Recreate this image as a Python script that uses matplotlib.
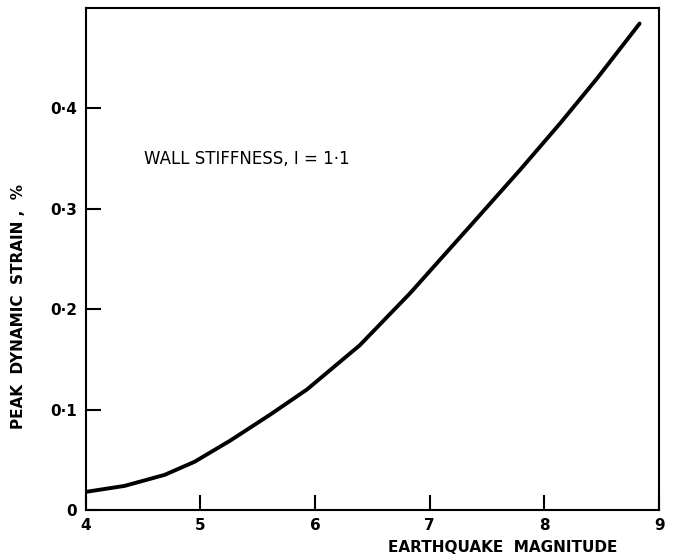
import matplotlib
matplotlib.use("Agg")
import matplotlib.pyplot as plt

magnitude = [4.0, 4.34, 4.69, 4.95, 5.26, 5.61, 5.93, 6.39, 6.83, 7.08, 7.35, 7.79, 8.14, 8.46, 8.83]
strain = [0.018, 0.024, 0.035, 0.048, 0.069, 0.095, 0.120, 0.164, 0.216, 0.248, 0.2825, 0.339, 0.3855, 0.430, 0.4845]

x_ticks = [4, 5, 6, 7, 8, 9]
x_labels = ["4", "5", "6", "7", "8", "9"]
y_ticks = [0, 0.1, 0.2, 0.3, 0.4]
y_labels = ["0", "0·1", "0·2", "0·3", "0·4"]

plt.rcParams['font.family'] = ['DejaVu Sans']

fig = plt.figure(figsize=(6.76, 5.6), dpi=100)
ax = fig.add_axes([0.1265, 0.0893, 0.975 - 0.1265, 0.9857 - 0.0893])

ax.plot(magnitude, strain, color='black', linewidth=2.8,
        solid_capstyle='round', solid_joinstyle='round')

ax.set_xlim(4, 9)
ax.set_ylim(0, 0.5)
ax.set_xticks(x_ticks)
ax.set_xticklabels(x_labels, fontsize=11, fontweight='bold')
ax.set_yticks(y_ticks)
ax.set_yticklabels(y_labels, fontsize=11, fontweight='bold')
ax.tick_params(axis='both', direction='in', length=11, width=1.5, pad=6)
for s in ax.spines.values():
    s.set_linewidth(1.5)

ax.set_xlabel("EARTHQUAKE  MAGNITUDE", fontsize=11, fontweight='bold')
ax.xaxis.set_label_coords(0.728, -0.06)
ax.set_ylabel("PEAK  DYNAMIC  STRAIN ,  %", fontsize=11, fontweight='bold')
ax.yaxis.set_label_coords(-0.103, 0.406)

ax.text(0.102, 0.70, "WALL STIFFNESS, I = 1·1", transform=ax.transAxes,
        fontsize=12, va='center', ha='left')

fig.savefig("out.png", dpi=100)
